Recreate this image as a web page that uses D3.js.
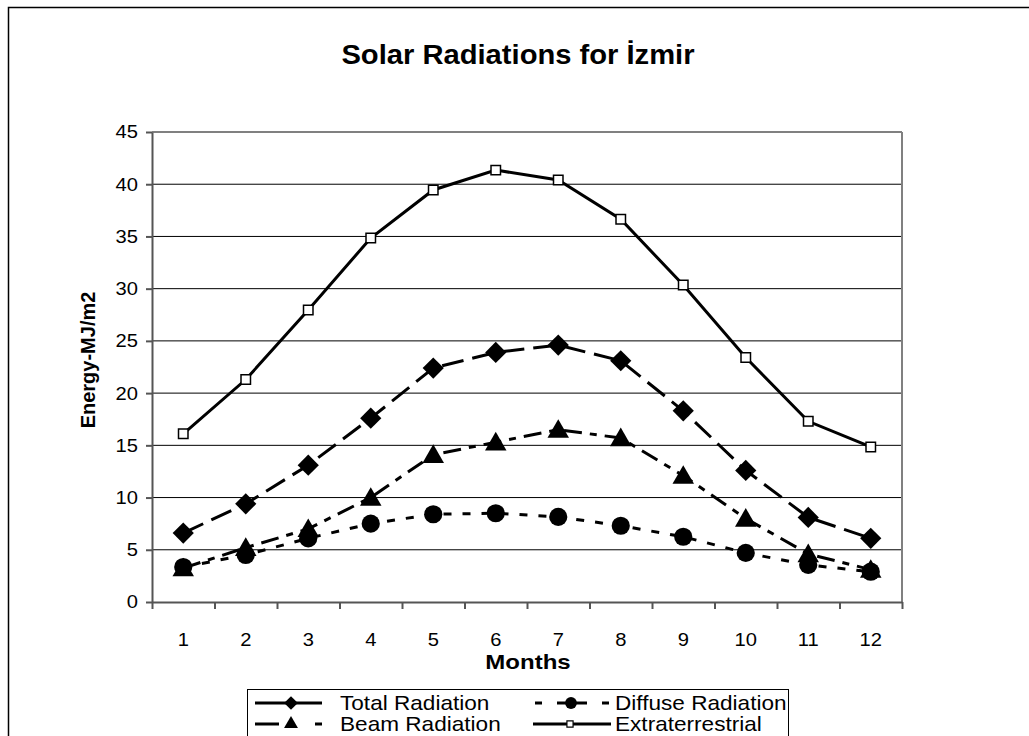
<!DOCTYPE html>
<html><head><meta charset="utf-8">
<script src="https://cdn.jsdelivr.net/npm/d3@7"></script>
<style>body{margin:0;background:#fff}svg{display:block}text{font-family:"Liberation Sans",Arial,sans-serif}</style>
</head><body><svg id="c" width="1029" height="736"></svg>
<script>
const months = [1,2,3,4,5,6,7,8,9,10,11,12];
const yTicks = [0,5,10,15,20,25,30,35,40,45];
const totalRadiation = [6.6,9.4,13.1,17.6,22.4,23.9,24.6,23.1,18.3,12.6,8.1,6.1];
const diffuseRadiation = [3.35,4.5,6.1,7.5,8.4,8.5,8.15,7.3,6.25,4.7,3.55,2.9];
const beamRadiation = [3.25,5.2,7.0,10.0,14.1,15.3,16.5,15.7,12.1,8.0,4.6,3.1];
const extraterrestrial = [16.1,21.3,27.95,34.85,39.45,41.35,40.4,36.65,30.35,23.4,17.3,14.85];
const seriesNames = ["Total Radiation","Diffuse Radiation","Beam Radiation","Extraterrestrial"];

const svg = d3.select("#c");
const L=152,R=902,T=132,B=602;
const x = d3.scaleBand().domain(months).range([L,R]);
const y = d3.scaleLinear().domain([0,45]).range([B,T]);

// outer frame
svg.append("rect").attr("x",8.5).attr("y",7.5).attr("width",1040).attr("height",760)
  .attr("fill","none").attr("stroke","#000").attr("stroke-width",1.5);

function stext(xp,yp,str,opts){
  const t = svg.append("text")
    .attr("text-anchor",opts.anchor||"middle").attr("font-size",opts.size)
    .attr("font-weight",opts.bold?"bold":"normal").attr("fill","#000").text(str);
  if(opts.rot) t.attr("transform",`translate(${xp},${yp}) rotate(-90)`);
  else t.attr("transform",`translate(${xp},${yp}) scale(${opts.sx||1},1)`);
  if(opts.dy) t.attr("dy",opts.dy);
  return t;
}

// gridlines
svg.append("g").selectAll("line").data(yTicks.filter(d=>d>0)).join("line")
  .attr("x1",L).attr("x2",R).attr("y1",d=>y(d)).attr("y2",d=>y(d))
  .attr("stroke","#000").attr("stroke-width",1);
svg.append("line").attr("x1",R).attr("x2",R).attr("y1",T).attr("y2",B).attr("stroke","#808080").attr("stroke-width",2);
svg.append("line").attr("x1",L).attr("x2",R).attr("y1",T).attr("y2",T).attr("stroke","#808080").attr("stroke-width",2);

// axes
const gy = svg.append("g").attr("transform",`translate(${L},0)`)
  .call(d3.axisLeft(y).tickValues(yTicks).tickSize(6).tickSizeOuter(0).tickFormat(""));
gy.selectAll("path,line").attr("stroke","#555").attr("stroke-width",2);
const xEdge = d3.scaleLinear().domain([0,months.length]).range([L,R]);
const gx = svg.append("g").attr("transform",`translate(0,${B})`)
  .call(d3.axisBottom(xEdge).tickValues(d3.range(0,months.length+1)).tickSize(7).tickSizeOuter(0).tickFormat(""));
gx.selectAll("path,line").attr("stroke","#555").attr("stroke-width",2);

yTicks.forEach(v=>stext(138,y(v),String(v),{size:18,sx:1.12,anchor:"end",dy:"0.36em"}));
months.forEach(m=>stext(x(m)+x.bandwidth()/2,646,String(m),{size:18,sx:1.12}));

stext(518,64,"Solar Radiations for İzmir",{size:27,sx:1.08,bold:true});
stext(528,669,"Months",{size:20,sx:1.2,bold:true});
stext(95,360,"Energy-MJ/m2",{size:20,bold:true,rot:true});

const cx = d=>x(d)+x.bandwidth()/2;
const styles = {
  "Total Radiation":{data:totalRadiation,dash:"22,9",sym:d3.symbolSquare,rot:45,size:225,fill:"#000",
    leg:{x1:255,x2:322,dash:null}},
  "Diffuse Radiation":{data:diffuseRadiation,dash:"8,11",sym:d3.symbolCircle,rot:0,size:260,fill:"#000",
    leg:{x1:535,x2:609,dash:"7,15,30,15,7"}},
  "Beam Radiation":{data:beamRadiation,dash:"18,8,7,8",sym:d3.symbolTriangle,rot:0,size:200,fill:"#000",
    leg:{x1:255,x2:322,dash:"24,36,7"}},
  "Extraterrestrial":{data:extraterrestrial,dash:null,sym:d3.symbolSquare,rot:0,size:90,fill:"#fff",
    leg:{x1:533,x2:611,dash:null}}
};
const line = d3.line().x((d,i)=>cx(months[i])).y(d=>y(d));
const order = ["Extraterrestrial","Total Radiation","Beam Radiation","Diffuse Radiation"];
order.forEach(name=>{
  const s = styles[name];
  svg.append("path").datum(s.data).attr("d",line).attr("fill","none")
    .attr("stroke","#000").attr("stroke-width",3).attr("stroke-dasharray",s.dash);
});
order.forEach(name=>{
  const s = styles[name];
  const sym = d3.symbol().type(s.sym).size(s.size);
  svg.append("g").selectAll("path").data(s.data).join("path")
    .attr("d",sym)
    .attr("transform",(d,i)=>`translate(${cx(months[i])},${y(d)+(s.sym===d3.symbolTriangle?2:0)}) rotate(${s.rot})`)
    .attr("fill",s.fill).attr("stroke","#000").attr("stroke-width",s.fill==="#fff"?1.5:0);
});

// legend
svg.append("rect").attr("x",247.5).attr("y",689.5).attr("width",541).attr("height",60)
  .attr("fill","#fff").attr("stroke","#000").attr("stroke-width",1);
const legPos = {
  "Total Radiation":[291,340,703],
  "Diffuse Radiation":[571,615,703],
  "Beam Radiation":[291,340,724],
  "Extraterrestrial":[570,615,724]
};
seriesNames.forEach(name=>{
  const s = styles[name]; const [sx,tx,ty]=legPos[name];
  svg.append("line").attr("x1",s.leg.x1).attr("x2",s.leg.x2).attr("y1",ty).attr("y2",ty)
    .attr("stroke","#000").attr("stroke-width",3).attr("stroke-dasharray",s.leg.dash);
  const sym = d3.symbol().type(s.sym).size(s.size*0.42);
  svg.append("path").attr("d",sym).attr("transform",`translate(${sx},${ty}) rotate(${s.rot})`)
    .attr("fill",s.fill).attr("stroke","#000").attr("stroke-width",s.fill==="#fff"?1.2:0);
  stext(tx,ty,name,{size:20,sx:1.13,anchor:"start",dy:"0.34em"});
});
</script></body></html>
